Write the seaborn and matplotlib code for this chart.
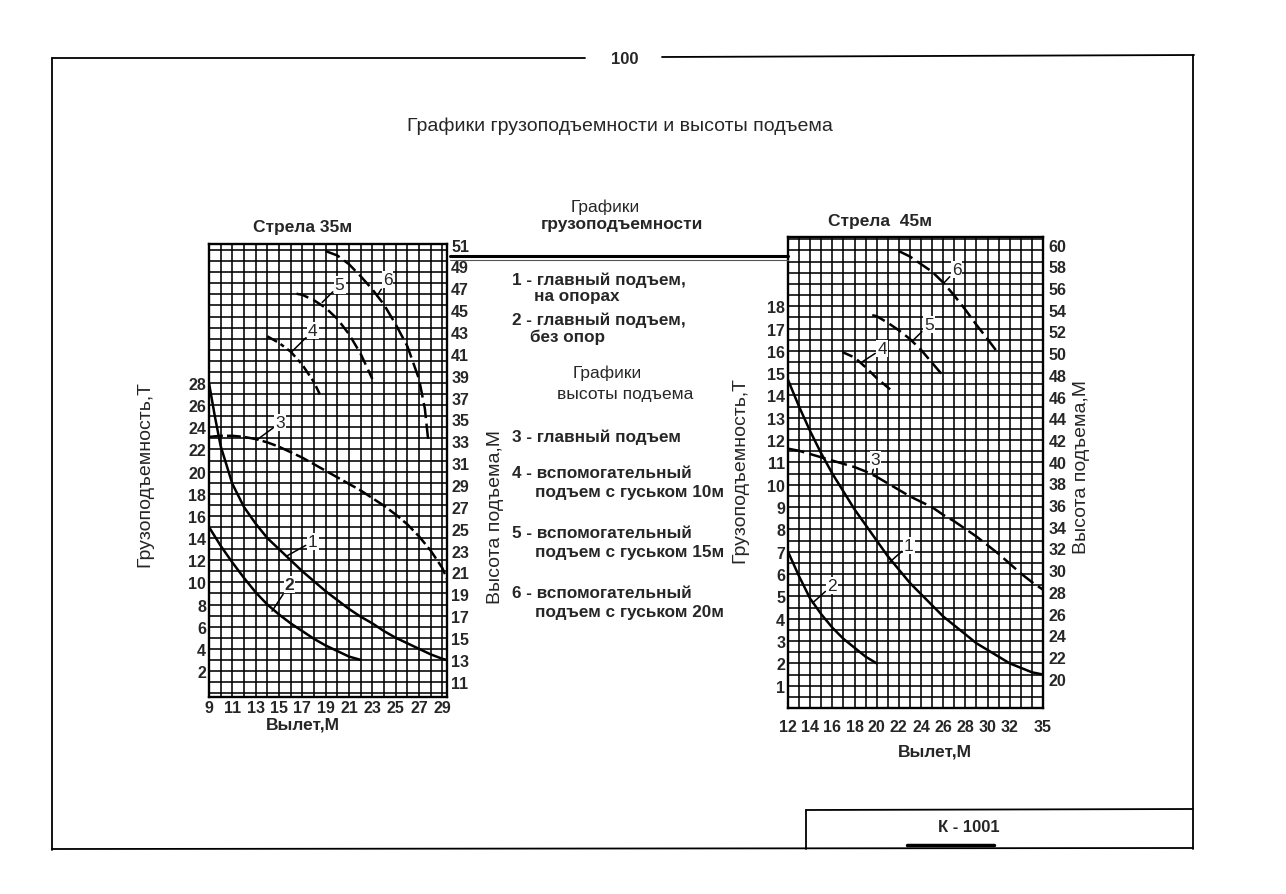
import numpy as np
import pandas as pd
import matplotlib
matplotlib.use("Agg")
import matplotlib.pyplot as plt
from matplotlib.lines import Line2D
from matplotlib.ticker import MultipleLocator, FixedLocator
import seaborn as sns

# ---- Стрела 35м (reach, capacity in T, lift height in M) ----
b35_reach_1 = [9, 9.5, 10, 11, 12, 13, 14, 15, 16, 17, 18, 19, 20, 21, 22, 23, 24, 25, 26, 27, 28, 29, 29.4]
b35_load_1 = [28, 25.0, 22.3, 18.9, 16.8, 15.3, 14.0, 13.0, 12.0, 11.0, 10.1, 9.2, 8.4, 7.6, 6.9, 6.3, 5.6, 5.0, 4.5, 4.0, 3.5, 3.1, 3.0]
b35_reach_2 = [9, 10, 11, 12, 13, 14, 15, 16, 17, 18, 19, 20, 21, 22]
b35_load_2 = [15, 13.3, 11.8, 10.4, 9.1, 8.0, 7.1, 6.3, 5.6, 4.9, 4.3, 3.8, 3.3, 3.0]
b35_reach_3 = [9, 10, 11, 12, 13, 14, 15, 16, 17, 18, 19, 20, 21, 22, 23, 24, 25, 26, 27, 28, 29, 29.4]
b35_height_3 = [33.4, 33.5, 33.5, 33.4, 33.2, 32.9, 32.5, 32.0, 31.5, 30.9, 30.3, 29.7, 29.1, 28.5, 27.8, 27.1, 26.3, 25.4, 24.3, 23.0, 21.4, 20.4]
b35_reach_4 = [14, 15, 16, 17, 18, 18.5]
b35_height_4 = [42.6, 42.0, 41.2, 40.0, 38.4, 37.3]
b35_reach_5 = [16.5, 17, 18, 19, 20, 21, 22, 23]
b35_height_5 = [46.5, 46.4, 45.9, 45.2, 44.2, 42.8, 41.0, 38.7]
b35_reach_6 = [19, 20, 21, 22, 23, 24, 25, 26, 27, 27.5, 27.8]
b35_height_6 = [50.4, 50.0, 49.2, 48.1, 46.9, 45.5, 43.7, 41.7, 38.7, 36.0, 33.0]

# ---- Стрела 45м ----
b45_reach_1 = [12, 13, 14, 15, 16, 17, 18, 19, 20, 21, 22, 23, 24, 25, 26, 27, 28, 29, 30, 31, 32, 33, 34, 35]
b45_load_1 = [14.7, 13.5, 12.4, 11.4, 10.5, 9.7, 8.9, 8.2, 7.5, 6.8, 6.2, 5.6, 5.1, 4.6, 4.1, 3.7, 3.3, 2.9, 2.6, 2.3, 2.0, 1.8, 1.6, 1.5]
b45_reach_2 = [12, 13, 14, 15, 16, 17, 18, 19, 20]
b45_load_2 = [7.0, 5.9, 4.9, 4.2, 3.6, 3.1, 2.7, 2.3, 2.0]
b45_reach_3 = [12, 13, 14, 15, 16, 17, 18, 19, 20, 21, 22, 23, 24, 25, 26, 27, 28, 29, 30, 31, 32, 33, 34, 35]
b45_height_3 = [41.2, 41.0, 40.7, 40.4, 40.1, 39.8, 39.5, 39.1, 38.6, 38.0, 37.4, 36.8, 36.3, 35.8, 35.1, 34.5, 33.8, 33.1, 32.3, 31.5, 30.6, 29.7, 28.9, 28.2]
b45_reach_4 = [16.9, 18, 19, 20, 21.4]
b45_height_4 = [50.1, 49.6, 48.7, 47.7, 46.5]
b45_reach_5 = [19.6, 20, 21, 22, 23, 24, 25, 26]
b45_height_5 = [53.5, 53.4, 52.8, 52.1, 51.3, 50.3, 49.1, 47.9]
b45_reach_6 = [22, 23, 24, 25, 26, 27, 28, 29, 30, 30.8]
b45_height_6 = [59.4, 58.9, 58.2, 57.5, 56.5, 55.3, 54.0, 52.6, 51.3, 50.2]

# tick labels
b35_reach_ticks = [9, 11, 13, 15, 17, 19, 21, 23, 25, 27, 29]
b35_load_ticks = [2, 4, 6, 8, 10, 12, 14, 16, 18, 20, 22, 24, 26, 28]
b35_height_ticks = list(range(11, 52, 2))
b45_reach_ticks = [12, 14, 16, 18, 20, 22, 24, 26, 28, 30, 32, 35]
b45_load_ticks = list(range(1, 19))
b45_height_ticks = list(range(20, 61, 2))

legend_lines = [
    ("1 - главный подъем,", 512, 280), ("на опорах", 534, 297),
    ("2 - главный подъем,", 512, 320), ("без опор", 530, 337),
    ("3 - главный подъем", 512, 437),
    ("4 - вспомогательный", 512, 473), ("подъем с гуськом 10м", 535, 493),
    ("5 - вспомогательный", 512, 533), ("подъем с гуськом 15м", 535, 553),
    ("6 - вспомогательный", 512, 593), ("подъем с гуськом 20м", 535, 613),
]

sns.set_style("white")
plt.rcParams["font.family"] = ["Liberation Sans", "DejaVu Sans"]
plt.rcParams["lines.scale_dashes"] = False

W, H = 1286, 895
TICK_SIZE = 11.5
fig = plt.figure(figsize=(W / 100, H / 100), dpi=100)


def fx(px):
    return px / W


def fy(py):
    return 1 - py / H


def page_line(x0, y0, x1, y1, lw=1.3, color="black"):
    fig.add_artist(Line2D([fx(x0), fx(x1)], [fy(y0), fy(y1)], transform=fig.transFigure,
                          color=color, linewidth=lw))


def bold_ticks(ax):
    for lab in ax.get_xticklabels() + ax.get_yticklabels():
        lab.set_fontweight("bold")


def style_grid(ax):
    ax.grid(True, which="both", color="black", linewidth=1.15)
    ax.set_axisbelow(True)
    for s in ax.spines.values():
        s.set_visible(True)
        s.set_color("black")
        s.set_linewidth(1.7)
    ax.tick_params(which="both", length=0, labelsize=TICK_SIZE, pad=2)
    bold_ticks(ax)


def style_twin(ax):
    ax.set_ylabel("")
    ax.grid(False)
    ax.tick_params(length=0, labelsize=TICK_SIZE, pad=3)
    bold_ticks(ax)
    for s in ax.spines.values():
        s.set_visible(False)


def curve(ax, x, y, ls):
    sns.lineplot(x=x, y=y, ax=ax, color="black", linewidth=1.8, linestyle=ls, sort=False)


def tag(ax, text, xy, xytext, weight="normal"):
    ax.annotate(text, xy=xy, xytext=xytext, fontsize=12.5, fontweight=weight, ha="center", va="center",
                bbox=dict(facecolor="white", edgecolor="none", pad=0.8),
                arrowprops=dict(arrowstyle="-", color="black", lw=1.1, shrinkA=1, shrinkB=0))


# ---------- left chart: Стрела 35м ----------
ax1 = fig.add_axes([fx(209), fy(698), fx(447) - fx(209), fy(245) - fy(698)])
ax1.set_xlim(9, 29.4)
ax1.set_ylim(-0.35, 40.55)
ax1.xaxis.set_major_locator(FixedLocator(b35_reach_ticks))
ax1.xaxis.set_minor_locator(MultipleLocator(1))
ax1.yaxis.set_major_locator(FixedLocator(b35_load_ticks))
ax1.yaxis.set_minor_locator(MultipleLocator(1))
curve(ax1, b35_reach_1, b35_load_1, "-")
curve(ax1, b35_reach_2, b35_load_2, "-")
ax1.set_xlabel("")
ax1.set_ylabel("")
style_grid(ax1)
tag(ax1, "1", (15.7, 12.4), (17.9, 13.7))
tag(ax1, "2", (14.4, 7.4), (15.9, 9.8), weight="bold")

ax1r = ax1.twinx()
ax1r.set_ylim(9.6, 51.05)
ax1r.yaxis.set_major_locator(FixedLocator(b35_height_ticks))
curve(ax1r, b35_reach_3, b35_height_3, (0, (10, 3)))
curve(ax1r, b35_reach_4, b35_height_4, (0, (8, 3, 3, 3)))
curve(ax1r, b35_reach_5, b35_height_5, (0, (9, 4)))
curve(ax1r, b35_reach_6, b35_height_6, (0, (11, 4)))
style_twin(ax1r)
tag(ax1r, "3", (13.2, 33.2), (15.1, 34.7))
tag(ax1r, "4", (16.1, 41.2), (17.9, 43.1))
tag(ax1r, "5", (18.7, 45.7), (20.2, 47.3))
tag(ax1r, "6", (23.4, 46.3), (24.3, 47.8))

# ---------- right chart: Стрела 45м ----------
ax2 = fig.add_axes([fx(788), fy(709), fx(1043) - fx(788), fy(238) - fy(709)])
ax2.set_xlim(12, 35)
ax2.set_ylim(0, 21.1)
ax2.xaxis.set_major_locator(FixedLocator(b45_reach_ticks))
ax2.xaxis.set_minor_locator(MultipleLocator(1))
ax2.yaxis.set_major_locator(FixedLocator(b45_load_ticks))
ax2.yaxis.set_minor_locator(MultipleLocator(0.5))
curve(ax2, b45_reach_1, b45_load_1, "-")
curve(ax2, b45_reach_2, b45_load_2, "-")
ax2.set_xlabel("")
ax2.set_ylabel("")
style_grid(ax2)
ax2.tick_params(axis="x", pad=8)
tag(ax2, "1", (21.1, 6.5), (22.9, 7.3))
tag(ax2, "2", (14.2, 4.7), (16.0, 5.5))

ax2r = ax2.twinx()
ax2r.set_ylim(17.3, 60.7)
ax2r.yaxis.set_major_locator(FixedLocator(b45_height_ticks))
curve(ax2r, b45_reach_3, b45_height_3, (0, (12, 4)))
curve(ax2r, b45_reach_4, b45_height_4, (0, (8, 4)))
curve(ax2r, b45_reach_5, b45_height_5, (0, (10, 4)))
curve(ax2r, b45_reach_6, b45_height_6, (0, (11, 4)))
style_twin(ax2r)
ax2r.tick_params(pad=4)
tag(ax2r, "3", (19.6, 38.9), (19.9, 40.2))
tag(ax2r, "4", (18.7, 49.2), (20.5, 50.4))
tag(ax2r, "5", (23.2, 51.1), (24.7, 52.6))
tag(ax2r, "6", (26.0, 56.4), (27.2, 57.7))

# ---------- axis titles ----------
lab_kw = dict(ha="center", va="center")
fig.text(fx(303), fy(228), "Стрела 35м", fontsize=12.5, fontweight="bold", **lab_kw)
fig.text(fx(880), fy(222), "Стрела  45м", fontsize=12.5, fontweight="bold", **lab_kw)
fig.text(fx(303), fy(725), "Вылет,М", fontsize=12.5, fontweight="bold", **lab_kw)
fig.text(fx(935), fy(752), "Вылет,М", fontsize=12.5, fontweight="bold", **lab_kw)
fig.text(fx(145), fy(474), "Грузоподъемность,Т", rotation=90, fontsize=14, **lab_kw)
fig.text(fx(495), fy(517), "Высота подъема,М", rotation=90, fontsize=14, **lab_kw)
fig.text(fx(740), fy(470), "Грузоподъемность,Т", rotation=90, fontsize=14, **lab_kw)
fig.text(fx(1081), fy(467), "Высота подъема,М", rotation=90, fontsize=14, **lab_kw)

# ---------- middle legend ----------
fig.text(fx(605), fy(207), "Графики", fontsize=12.5, ha="center", va="center")
fig.text(fx(622), fy(225), "грузоподъемности", fontsize=12.5, fontweight="bold", ha="center", va="center")
fig.text(fx(607), fy(373), "Графики", fontsize=12.5, ha="center", va="center")
fig.text(fx(625), fy(395), "высоты подъема", fontsize=12.5, ha="center", va="center")
for text, px, py in legend_lines:
    fig.text(fx(px), fy(py), text, fontsize=12.3, fontweight="bold", ha="left", va="center")

# ---------- page frame ----------
fig.text(fx(620), fy(126), "Графики грузоподъемности и высоты подъема", fontsize=14,
         ha="center", va="center")
fig.text(fx(625), fy(59), "100", fontsize=12, fontweight="bold", ha="center", va="center")
page_line(52, 59, 585, 59)
page_line(662, 58, 1194, 56)
page_line(52, 59, 52, 851)
page_line(1193, 56, 1193, 850)
page_line(52, 850, 1193, 849)
page_line(806, 811, 1193, 810)
page_line(806, 811, 806, 850)
page_line(907, 846, 994, 846, lw=2.5)
fig.text(fx(969), fy(828), "К - 1001", fontsize=12, fontweight="bold", ha="center", va="center")
page_line(450, 257, 788, 257, lw=2.2)
page_line(450, 261, 788, 261, lw=0.8, color="#555555")

fig.savefig("out.png", dpi=100)
